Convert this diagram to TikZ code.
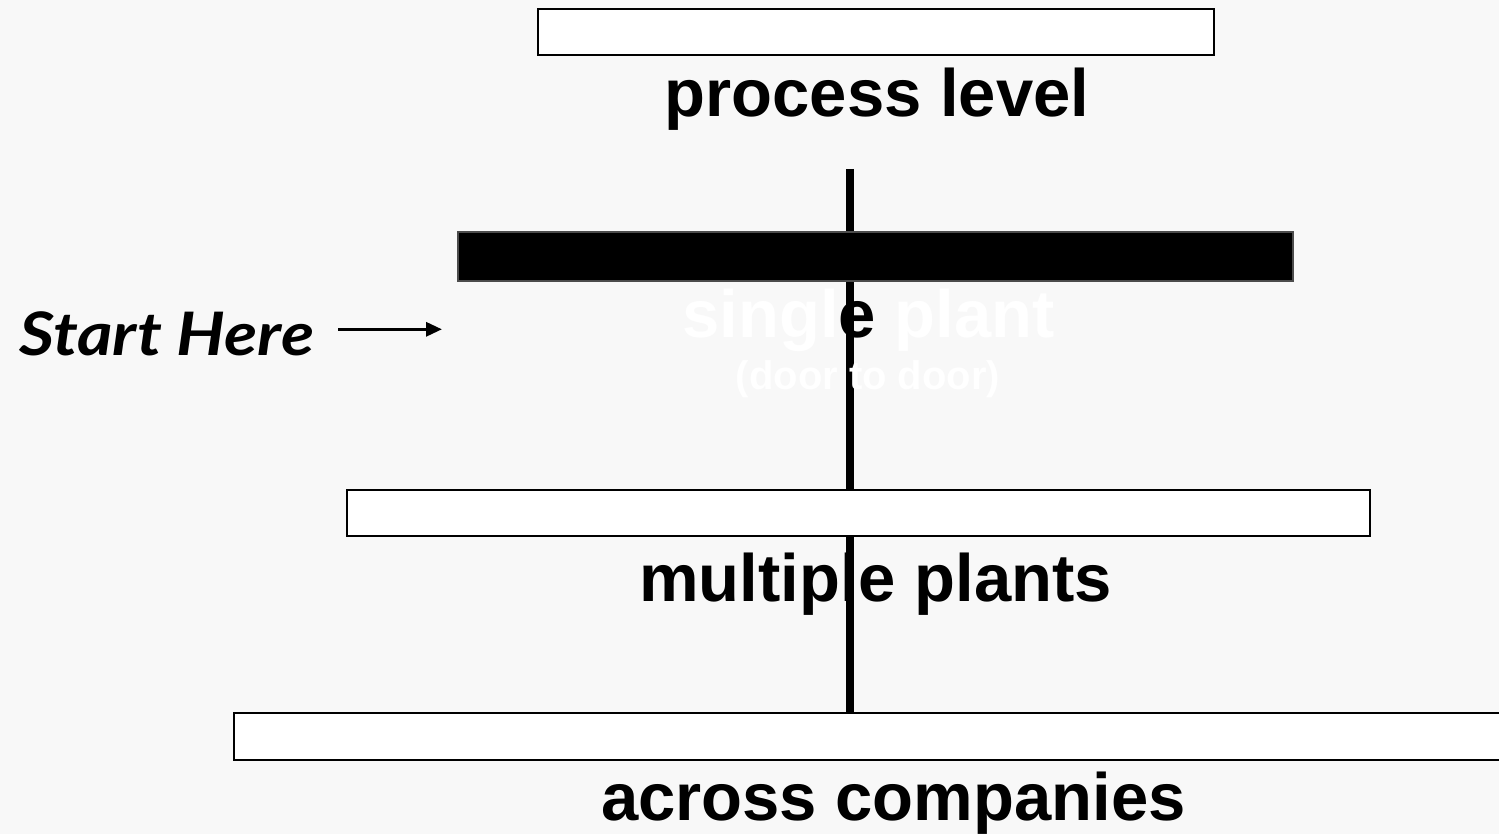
\documentclass[tikz,border=0pt]{standalone}
\usepackage{fontspec}
\setmainfont{Liberation Sans}
\newfontfamily\startfont{Lato}
\usetikzlibrary{arrows.meta}
\definecolor{bgc}{HTML}{F8F8F8}

\begin{document}
\begin{tikzpicture}[x=0.5pt,y=-0.5pt,
  bar/.style={draw=black, line width=1pt, fill=white, inner sep=0pt},
  blackbar/.style={draw=black!70, line width=0.6pt, fill=black, inner sep=0pt},
  level/.style={font=\fontsize{33.5}{40}\selectfont\bfseries, anchor=base, inner sep=0pt},
  sublevel/.style={font=\fontsize{20}{24}\selectfont\bfseries, anchor=base, inner sep=0pt},
]
\fill[bgc] (0,0) rectangle (1499,834);
\useasboundingbox (0,0) rectangle (1499,834);
\clip (0,0) rectangle (1499,834);

% central stem
\coordinate (stemtop) at (849.7,169);
\coordinate (stembot) at (849.7,713);
\draw[line width=4pt] (stemtop) -- (stembot);

% level bars
\node[bar, minimum width=338pt, minimum height=23pt] (b1) at (876,32) {};
\node[blackbar, minimum width=417.5pt, minimum height=24.5pt] (b2) at (875.5,256.5) {};
\node[bar, minimum width=511.5pt, minimum height=23pt] (b3) at (858.5,513) {};
\node[bar, minimum width=638pt, minimum height=23.5pt] (b4) at (872,736.5) {};

% labels
\node[level] (l1) at (877,117) {process level};
\node[level, text=white] (l2) at (868.5,337) {singl\textcolor{black}{e} plant};
\node[sublevel, text=white] (l2b) at (868,389) {(door to door)};
\node[level] (l3) at (875.5,601) {multiple plants};
\node[level] (l4) at (893.5,820) {across companies};

% entry marker
\node[font=\startfont\fontsize{30}{36}\selectfont\bfseries\itshape, anchor=base west, inner sep=0pt] (start) at (19,355) {\scalebox{1.135}[1]{Start Here}};
\coordinate (arrowfrom) at (338,329.3);
\coordinate (arrowto) at (442,329.3);
\draw[line width=1.6pt, -{Triangle[length=8pt,width=7pt]}] (arrowfrom) -- (arrowto);
\end{tikzpicture}
\end{document}
